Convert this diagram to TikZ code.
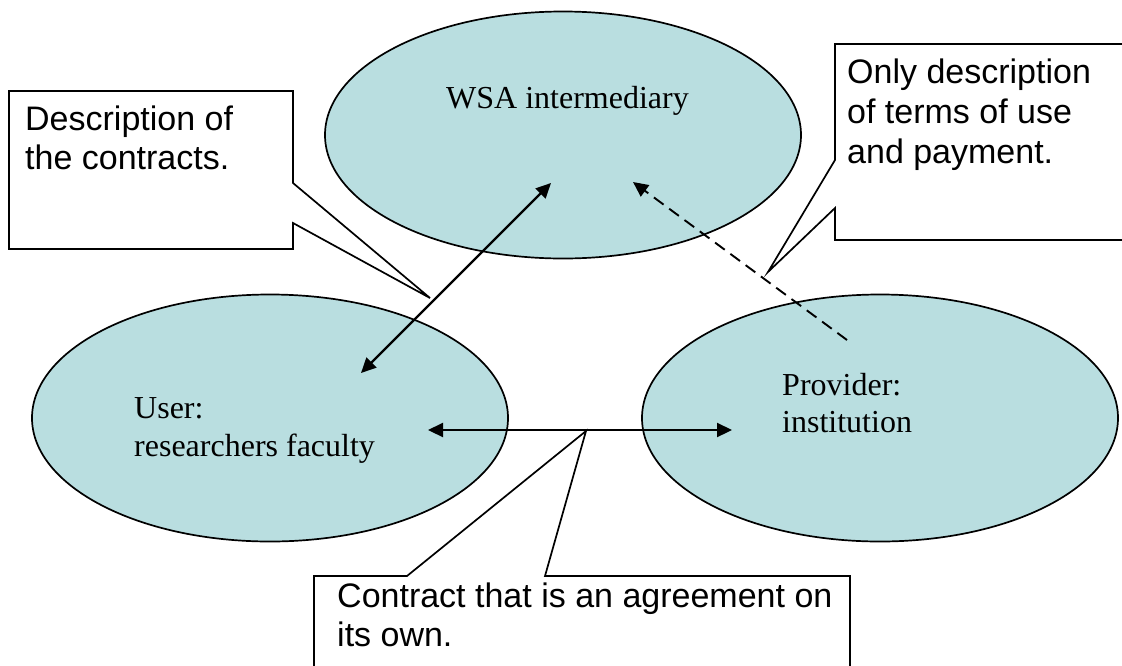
\documentclass[tikz,border=0pt]{standalone}
\usepackage{fontspec}
\setmainfont{Liberation Serif}
\newfontfamily\arialf{Liberation Sans}
\usetikzlibrary{arrows.meta,shapes.geometric}
\definecolor{ellfill}{RGB}{185,222,224}
\tikzset{
  ell/.style={shape=ellipse, draw=black, fill=ellfill, line width=1.7pt,
    minimum width=476pt, minimum height=247pt, inner sep=0pt},
  serifline/.style={anchor=base west, inner sep=0pt, font=\fontsize{32}{38}\selectfont},
  sansline/.style={anchor=base west, inner sep=0pt, font=\arialf\fontsize{34}{39}\selectfont},
  callout/.style={draw=black, fill=white, line width=1.7pt, line join=miter},
  conn/.style={line width=2.2pt, {Triangle[length=15pt,width=14pt]}-{Triangle[length=15pt,width=14pt]}},
  dconn/.style={line width=1.9pt, dash pattern=on 12pt off 7pt, -{Triangle[length=15pt,width=14pt]}}
}
\begin{document}
\begin{tikzpicture}[x=1pt,y=-1pt]
\useasboundingbox (0,0) rectangle (1122,665);
\clip (0,0) rectangle (1122,665);
\fill[white] (0,0) rectangle (1122,665);

% ellipses
\node[ell] (wsa) at (563,135) {};
\node[ell] (user) at (270,418) {};
\node[ell] (prov) at (880,418) {};

% ellipse texts
\node[serifline] (wsat) at (446,108) {WSA intermediary};
\node[serifline] (usert1) at (134,418) {User:};
\node[serifline] (usert2) at (134,456) {researchers faculty};
\node[serifline] (provt1) at (782,395) {Provider:};
\node[serifline] (provt2) at (782,432) {institution};

% callout tips
\coordinate (tipL) at (430,298);
\coordinate (tipR) at (768,272);
\coordinate (tipB) at (586,431);

% callouts
\draw[callout] (9,91) -- (293,91) -- (293,183) -- (tipL) -- (293,223) -- (293,249) -- (9,249) -- cycle;
\draw[callout] (835,44) -- (1140,44) -- (1140,240) -- (835,240) -- (835,208) -- (tipR) -- (835,160) -- cycle;
\draw[callout] (314,576) -- (407,576) -- (tipB) -- (545,576) -- (850,576) -- (850,690) -- (314,690) -- cycle;

\node[sansline] (lc1) at (25,130) {Description of};
\node[sansline] (lc2) at (25,169) {the contracts.};
\node[sansline] (rc1) at (847,83) {Only description};
\node[sansline] (rc2) at (847,123) {of terms of use};
\node[sansline] (rc3) at (847,163) {and payment.};
\node[sansline] (bc1) at (337,607) {Contract that is an agreement on};
\node[sansline] (bc2) at (337,646) {its own.};

% connector end points
\coordinate (userUp) at (361,373);
\coordinate (wsaA) at (551,183);
\coordinate (wsaB) at (633,182);
\coordinate (provUp) at (847,340);
\coordinate (userR) at (428,430);
\coordinate (provL) at (732,430);

\draw[conn] (userUp) -- (wsaA);
\draw[dconn] (provUp) -- (wsaB);
\draw[conn] (userR) -- (provL);
\end{tikzpicture}
\end{document}
